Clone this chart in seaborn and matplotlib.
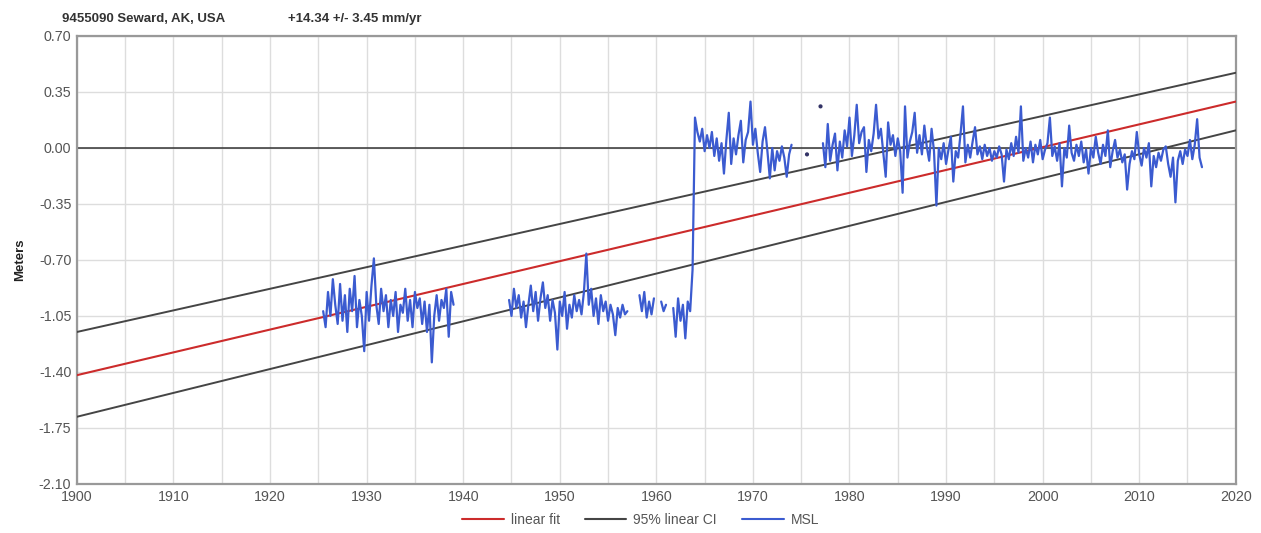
import numpy as np
import pandas as pd
import seaborn as sns
import matplotlib.pyplot as plt
from matplotlib.lines import Line2D

# ---- data (metres, quarterly steps) ----
fit_years = [1900, 2020]
fit_line = [-1.42, 0.29]
ci_upper = [-1.15, 0.47]
ci_lower = [-1.68, 0.11]

seg1_start = 1925.5
seg1 = [-1.02, -1.12, -0.90, -1.05, -0.82, -0.98, -1.10, -0.85, -1.08, -0.92,
        -1.15, -0.88, -1.02, -0.80, -1.12, -0.95, -1.05, -1.27, -0.90, -1.08,
        -0.86, -0.69, -0.98, -1.10, -0.88, -1.02, -0.92, -1.12, -0.95, -1.05,
        -0.90, -1.15, -0.98, -1.03, -0.88, -1.08, -0.95, -1.12, -0.90, -1.00,
        -0.94, -1.10, -0.96, -1.15, -0.98, -1.34, -1.05, -0.92, -1.08, -0.95,
        -1.00, -0.88, -1.18, -0.90, -0.98]

seg2_start = 1944.75
seg2 = [-0.95, -1.05, -0.88, -1.00, -0.92, -1.06, -0.96, -1.12, -0.98, -0.86,
        -1.02, -0.90, -1.08, -0.94, -0.84, -1.00, -0.92, -1.08, -0.95, -1.03,
        -1.26, -0.96, -1.05, -0.90, -1.13, -0.98, -1.06, -0.92, -1.02, -0.95,
        -1.04, -0.90, -0.66, -0.98, -0.88, -1.05, -0.94, -1.10, -0.92, -1.02,
        -0.96, -1.08, -0.98, -1.04, -1.17, -1.00, -1.06, -0.98, -1.04, -1.02]

seg3_start = 1958.25
seg3 = [-0.92, -1.02, -0.90, -1.06, -0.96, -1.04, -0.94]

seg4_start = 1960.5
seg4 = [-0.96, -1.02, -0.98]

seg5_start = 1961.75
seg5 = [-1.00, -1.18, -0.94, -1.08, -0.98, -1.19, -0.96, -1.02, -0.76,
        0.19, 0.10, 0.04, 0.12, -0.02, 0.08, 0.00, 0.10, -0.05, 0.06, -0.08,
        0.03, -0.16, 0.05, 0.22, -0.10, 0.06, -0.04, 0.08, 0.17, -0.09,
        0.05, 0.10, 0.29, 0.02, 0.12, -0.03, -0.15, 0.04, 0.13, -0.02,
        -0.19, 0.00, -0.14, -0.02, -0.08, 0.01, -0.06, -0.18, -0.04, 0.02]

dot_years = [1975.6, 1977.0]
dot_values = [-0.04, 0.26]

seg6_start = 1977.25
seg6 = [0.03, -0.12, 0.15, -0.08, 0.02, 0.09, -0.14, 0.04, -0.06, 0.11,
        0.01, 0.19, -0.05, 0.08, 0.27, 0.03, 0.10, 0.13, -0.15, 0.05,
        -0.02, 0.09, 0.27, 0.06, 0.12, -0.03, -0.18, 0.16, 0.02, 0.08,
        -0.05, 0.06, -0.02, -0.28, 0.26, -0.06, 0.04, 0.10, 0.22, -0.03,
        0.08, -0.04, 0.14, 0.01, -0.08, 0.12, -0.02, -0.36, 0.00, -0.07,
        0.03, -0.10, -0.01, 0.07, -0.21, -0.02, -0.06, 0.09, 0.26, -0.09,
        0.02, -0.06, 0.04, 0.13, -0.04, 0.01, -0.07, 0.02, -0.05, 0.00,
        -0.08, -0.02, -0.06, 0.01, -0.04, -0.21, -0.01, -0.07, 0.03, -0.05,
        0.07, -0.03, 0.26, -0.08, 0.00, -0.06, 0.04, -0.09, 0.02, -0.04,
        0.05, -0.07, -0.01, 0.03, 0.19, -0.05, 0.01, -0.08, 0.03, -0.24,
        0.00, -0.06, 0.14, -0.03, -0.08, 0.02, -0.05, 0.04, -0.09, -0.01,
        -0.16, 0.00, -0.06, 0.07, -0.03, -0.10, 0.02, -0.05, 0.11, -0.12,
        -0.02, 0.05, -0.06, -0.01, -0.09, -0.04, -0.26, -0.10, -0.02, -0.07,
        0.10, -0.04, -0.11, 0.00, -0.06, 0.03, -0.24, -0.05, -0.12, -0.03,
        -0.08, -0.01, 0.01, -0.10, -0.18, -0.06, -0.34, -0.08, -0.02, -0.10,
        -0.01, -0.05, 0.05, -0.07, 0.02, 0.18, -0.06, -0.12]

segments = [(seg1_start, seg1), (seg2_start, seg2), (seg3_start, seg3),
            (seg4_start, seg4), (seg5_start, seg5), (seg6_start, seg6)]

rows = []
for k, (start, vals) in enumerate(segments):
    for i, v in enumerate(vals):
        rows.append({"year": start + 0.25 * i, "msl": v, "seg": k})
msl_df = pd.DataFrame(rows)

BLUE = "#3b5bd0"
RED = "#cc2b2b"
GREY = "#454545"

sns.set_style("white")
plt.rcParams["font.family"] = ["Liberation Sans", "DejaVu Sans"]

fig = plt.figure(figsize=(12.61, 5.33), dpi=100)
ax = fig.add_axes([0.061, 0.092, 0.919, 0.8405])

ax.axhline(0, color="#333333", lw=1.1, zorder=2)
sns.lineplot(x=fit_years, y=ci_upper, color=GREY, lw=1.4, ax=ax, zorder=3)
sns.lineplot(x=fit_years, y=ci_lower, color=GREY, lw=1.4, ax=ax, zorder=3)
sns.lineplot(x=fit_years, y=fit_line, color=RED, lw=1.5, ax=ax, zorder=3)
sns.lineplot(data=msl_df, x="year", y="msl", units="seg", estimator=None,
             color=BLUE, lw=1.6, ax=ax, zorder=4)
sns.scatterplot(x=dot_years, y=dot_values, color="#333366", s=9,
                edgecolor="none", ax=ax, zorder=4)

ax.set_xlim(1900, 2020)
ax.set_ylim(-2.10, 0.70)
ax.set_xticks(np.arange(1900, 2021, 10))
ax.set_xticks(np.arange(1905, 2020, 10), minor=True)
yt = np.arange(-2.10, 0.71, 0.35)
ax.set_yticks(yt)
ax.set_yticklabels([f"{v:.2f}" if abs(v) > 1e-9 else "0.00" for v in yt])
ax.grid(True, which="both", color="#dddddd", lw=1.0, zorder=0)
ax.tick_params(axis="both", which="both", length=0, labelsize=10.3,
               labelcolor="#555555", pad=4)
for s in ax.spines.values():
    s.set_color("#999999")
    s.set_linewidth(1.6)

ax.set_xlabel("")
ax.set_ylabel("Meters", fontsize=9.5, fontweight="bold", color="#222222",
              labelpad=9)

fig.text(0.049, 0.965, "9455090 Seward, AK, USA", fontsize=9.5,
         fontweight="bold", color="#333333", va="center")
fig.text(0.228, 0.965, "+14.34 +/- 3.45 mm/yr", fontsize=9.5,
         fontweight="bold", color="#333333", va="center")

handles = [Line2D([], [], color=RED, lw=1.5),
           Line2D([], [], color=GREY, lw=1.5),
           Line2D([], [], color=BLUE, lw=1.5)]
fig.legend(handles, ["linear fit", "95% linear CI", "MSL"], loc="center",
           bbox_to_anchor=(0.508, 0.024), ncol=3, frameon=False,
           fontsize=10, handlelength=3.0, columnspacing=1.8,
           handletextpad=0.5, labelcolor="#555555")

fig.savefig("out.png", dpi=100)
